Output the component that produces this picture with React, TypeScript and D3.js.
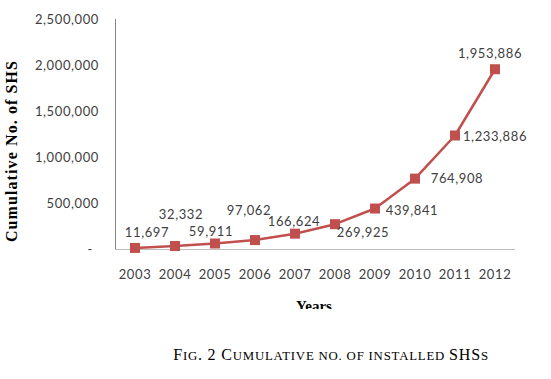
import React from "react";
import * as d3 from "d3";

const years = ["2003", "2004", "2005", "2006", "2007", "2008", "2009", "2010", "2011", "2012"];
const cumulative = [11697, 32332, 59911, 97062, 166624, 269925, 439841, 764908, 1233886, 1953886];
const yTicks = [0, 500000, 1000000, 1500000, 2000000, 2500000];
// label offsets relative to each marker (dx, dy of baseline)
const labelDx = [12, 6, -4, -6, -1, 28, 37, 42, 40, -5];
const labelDy = [-11, -27, -7.5, -25, -8, 13, 6.5, 4.4, 5.5, -11];

const W = 551;
const H = 379;
const left = 115;
const right = 515;
const top = 19;
const bottom = 249;
const RED = "#C0504D";
const TXT = "#404040";
const labelFont = "Lato, 'Open Sans', sans-serif";
const serif = "'Liberation Serif', 'Times New Roman', serif";

export default function App() {
  const x = d3.scaleBand<string>().domain(years).range([left, right]);
  const y = d3.scaleLinear().domain([0, 2500000]).range([bottom, top]);
  const fmt = d3.format(",");
  const line = d3
    .line<number>()
    .x((_, i) => (x(years[i]) as number) + x.bandwidth() / 2)
    .y((d) => y(d));

  const big = 16;
  const small = 12.8;

  return (
    <svg width={W} height={H} style={{ position: "absolute", left: 0, top: 0, background: "#fff" }}>
      <defs>
        <clipPath id="yearsClip">
          <rect x={0} y={0} width={W} height={309} />
        </clipPath>
      </defs>
      {/* axes */}
      <line x1={left + 0.5} x2={left + 0.5} y1={top} y2={bottom} stroke="#868686" strokeWidth={1} />
      <line x1={left} x2={right} y1={bottom + 0.5} y2={bottom + 0.5} stroke="#BDBDBD" strokeWidth={1} />
      {yTicks.map((t) => (
        <text
          key={t}
          x={t === 0 ? 90 : 99}
          y={y(t)}
          dy="0.35em"
          textAnchor={t === 0 ? "middle" : "end"}
          fontFamily={labelFont}
          fontSize={13}
          letterSpacing={t === 0 ? 0 : 0.6}
          fill={TXT}
        >
          {t === 0 ? "-" : fmt(t)}
        </text>
      ))}
      {years.map((yr) => (
        <text
          key={yr}
          x={(x(yr) as number) + x.bandwidth() / 2}
          y={279}
          textAnchor="middle"
          fontFamily={labelFont}
          fontSize={13}
          letterSpacing={0.6}
          fill={TXT}
        >
          {yr}
        </text>
      ))}
      {/* line */}
      <path d={line(cumulative) || ""} fill="none" stroke={RED} strokeWidth={2.5} strokeLinejoin="round" />
      {cumulative.map((v, i) => {
        const cx = (x(years[i]) as number) + x.bandwidth() / 2;
        const cy = y(v);
        return <rect key={i} x={cx - 5} y={cy - 5} width={10} height={10} fill={RED} />;
      })}
      {cumulative.map((v, i) => {
        const cx = (x(years[i]) as number) + x.bandwidth() / 2;
        const cy = y(v);
        return (
          <text
            key={"l" + i}
            x={cx + labelDx[i]}
            y={cy + labelDy[i]}
            textAnchor="middle"
            fontFamily={labelFont}
            fontSize={13}
            letterSpacing={0.6}
            fill={TXT}
          >
            {fmt(v)}
          </text>
        );
      })}
      {/* axis titles */}
      <text
        transform={`translate(17,151) rotate(-90)`}
        textAnchor="middle"
        fontFamily={serif}
        fontWeight="bold"
        fontSize={16}
        letterSpacing={1.1}
        fill="#000"
      >
        Cumulative No. of SHS
      </text>
      <g clipPath="url(#yearsClip)">
        <text x={314} y={311} textAnchor="middle" fontFamily={serif} fontWeight="bold" fontSize={15} fill="#000">
          Years
        </text>
      </g>
      <text x={331} y={360} textAnchor="middle" fontFamily={serif} fill="#000" letterSpacing={0.8}>
        <tspan fontSize={big}>F</tspan>
        <tspan fontSize={small}>IG</tspan>
        <tspan fontSize={big}>. 2 C</tspan>
        <tspan fontSize={small}>UMULATIVE NO. OF INSTALLED </tspan>
        <tspan fontSize={big}>SHS</tspan>
        <tspan fontSize={small}>S</tspan>
      </text>
    </svg>
  );
}
